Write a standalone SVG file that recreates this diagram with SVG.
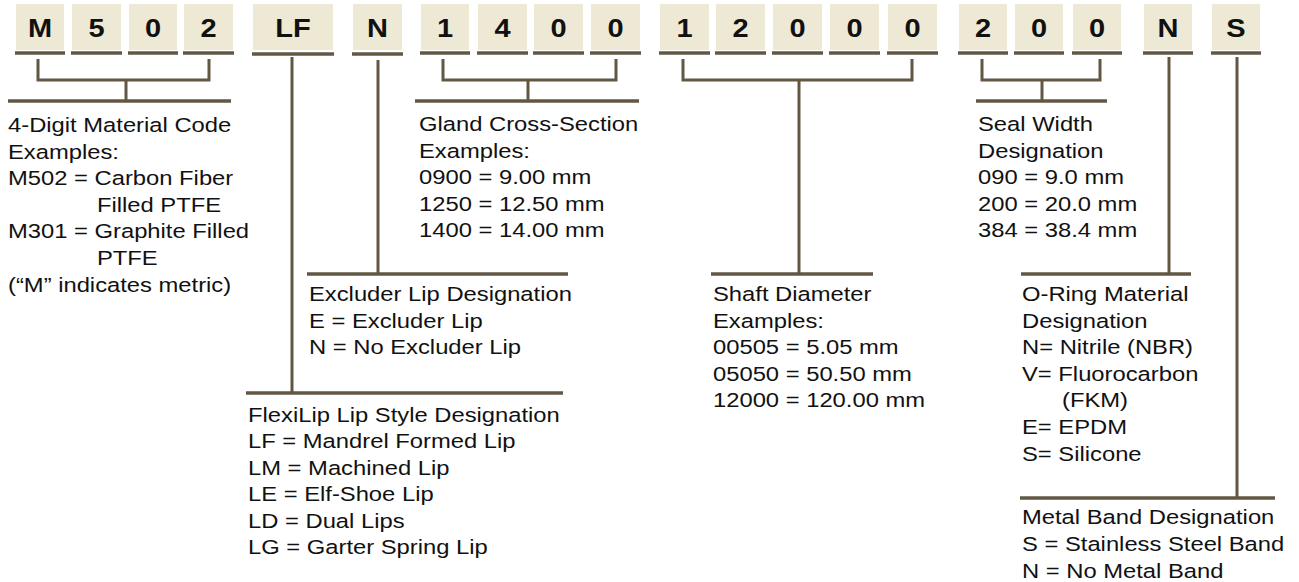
<svg xmlns="http://www.w3.org/2000/svg" width="1299" height="582" viewBox="0 0 1299 582">
<style>
.box{fill:#ede9d4;}
.ul{stroke:#625742;stroke-width:3.6;fill:none;}
.ln{stroke:#625742;stroke-width:3;fill:none;}
.hl{stroke:#625742;stroke-width:3.5;fill:none;}
.ch{font-family:"Liberation Sans",Arial,sans-serif;font-weight:bold;font-size:25px;fill:#111;text-anchor:middle;}
.tx{font-family:"Liberation Sans",Arial,sans-serif;font-size:20.5px;fill:#111;}
</style>
<rect width="1299" height="582" fill="#fff"/>
<g id="code-boxes">
<g id="box-M"><rect class="box" x="16" y="4" width="48" height="46"/><line class="ul" x1="15" y1="53" x2="65" y2="53"/><text class="ch" transform="translate(40,37) scale(1.16,1)">M</text></g>
<g id="box-5"><rect class="box" x="72" y="4" width="49" height="46"/><line class="ul" x1="71" y1="53" x2="122" y2="53"/><text class="ch" transform="translate(96.5,37) scale(1.16,1)">5</text></g>
<g id="box-0a"><rect class="box" x="129" y="4" width="48" height="46"/><line class="ul" x1="128" y1="53" x2="178" y2="53"/><text class="ch" transform="translate(153,37) scale(1.16,1)">0</text></g>
<g id="box-2a"><rect class="box" x="184" y="4" width="49" height="46"/><line class="ul" x1="183" y1="53" x2="234" y2="53"/><text class="ch" transform="translate(208.5,37) scale(1.16,1)">2</text></g>
<g id="box-LF"><rect class="box" x="253" y="4" width="80" height="46"/><line class="ul" x1="252" y1="54" x2="334" y2="54"/><text class="ch" transform="translate(293,37) scale(1.16,1)">LF</text></g>
<g id="box-N1"><rect class="box" x="353" y="4" width="49" height="46"/><line class="ul" x1="352" y1="54" x2="403" y2="54"/><text class="ch" transform="translate(377.5,37) scale(1.16,1)">N</text></g>
<g id="box-1a"><rect class="box" x="421" y="4" width="48" height="46"/><line class="ul" x1="420" y1="53" x2="470" y2="53"/><text class="ch" transform="translate(445,37) scale(1.16,1)">1</text></g>
<g id="box-4"><rect class="box" x="478" y="4" width="49" height="46"/><line class="ul" x1="477" y1="53" x2="528" y2="53"/><text class="ch" transform="translate(502.5,37) scale(1.16,1)">4</text></g>
<g id="box-0b"><rect class="box" x="534" y="4" width="49" height="46"/><line class="ul" x1="533" y1="53" x2="584" y2="53"/><text class="ch" transform="translate(558.5,37) scale(1.16,1)">0</text></g>
<g id="box-0c"><rect class="box" x="591" y="4" width="49" height="46"/><line class="ul" x1="590" y1="53" x2="641" y2="53"/><text class="ch" transform="translate(615.5,37) scale(1.16,1)">0</text></g>
<g id="box-1b"><rect class="box" x="660" y="4" width="49" height="46"/><line class="ul" x1="659" y1="53" x2="710" y2="53"/><text class="ch" transform="translate(684.5,37) scale(1.16,1)">1</text></g>
<g id="box-2b"><rect class="box" x="716" y="4" width="49" height="46"/><line class="ul" x1="715" y1="53" x2="766" y2="53"/><text class="ch" transform="translate(740.5,37) scale(1.16,1)">2</text></g>
<g id="box-0d"><rect class="box" x="773" y="4" width="49" height="46"/><line class="ul" x1="772" y1="53" x2="823" y2="53"/><text class="ch" transform="translate(797.5,37) scale(1.16,1)">0</text></g>
<g id="box-0e"><rect class="box" x="830" y="4" width="49" height="46"/><line class="ul" x1="829" y1="53" x2="880" y2="53"/><text class="ch" transform="translate(854.5,37) scale(1.16,1)">0</text></g>
<g id="box-0f"><rect class="box" x="888" y="4" width="49" height="46"/><line class="ul" x1="887" y1="53" x2="938" y2="53"/><text class="ch" transform="translate(912.5,37) scale(1.16,1)">0</text></g>
<g id="box-2c"><rect class="box" x="959" y="4" width="48" height="46"/><line class="ul" x1="958" y1="53" x2="1008" y2="53"/><text class="ch" transform="translate(983,37) scale(1.16,1)">2</text></g>
<g id="box-0g"><rect class="box" x="1015" y="4" width="48" height="46"/><line class="ul" x1="1014" y1="53" x2="1064" y2="53"/><text class="ch" transform="translate(1039,37) scale(1.16,1)">0</text></g>
<g id="box-0h"><rect class="box" x="1073" y="4" width="48" height="46"/><line class="ul" x1="1072" y1="53" x2="1122" y2="53"/><text class="ch" transform="translate(1097,37) scale(1.16,1)">0</text></g>
<g id="box-N2"><rect class="box" x="1144" y="4" width="48" height="46"/><line class="ul" x1="1143" y1="53" x2="1193" y2="53"/><text class="ch" transform="translate(1168,37) scale(1.16,1)">N</text></g>
<g id="box-S"><rect class="box" x="1212" y="4" width="48" height="46"/><line class="ul" x1="1211" y1="53" x2="1261" y2="53"/><text class="ch" transform="translate(1236,37) scale(1.16,1)">S</text></g>
</g>
<g id="connectors">
<polyline class="ln" points="38,59 38,80 209,80 209,59"/>
<line class="ln" x1="126" y1="80" x2="126" y2="101"/>
<line class="hl" x1="8" y1="101" x2="231" y2="101"/>
<line class="ln" x1="292" y1="57" x2="292" y2="393"/>
<line class="hl" x1="246" y1="393" x2="563" y2="393"/>
<line class="ln" x1="378" y1="60" x2="378" y2="274"/>
<line class="hl" x1="307" y1="274" x2="568" y2="274"/>
<polyline class="ln" points="443,59 443,80 616,80 616,59"/>
<line class="ln" x1="528" y1="80" x2="528" y2="101"/>
<line class="hl" x1="415" y1="101" x2="639" y2="101"/>
<polyline class="ln" points="683,59 683,80 912,80 912,59"/>
<line class="ln" x1="799" y1="80" x2="799" y2="274"/>
<line class="hl" x1="711" y1="274" x2="873" y2="274"/>
<polyline class="ln" points="982,59 982,80 1100,80 1100,59"/>
<line class="ln" x1="1042" y1="80" x2="1042" y2="101"/>
<line class="hl" x1="976" y1="101" x2="1107" y2="101"/>
<line class="ln" x1="1169" y1="57" x2="1169" y2="274"/>
<line class="hl" x1="1021" y1="274" x2="1191" y2="274"/>
<line class="ln" x1="1237" y1="57" x2="1237" y2="498"/>
<line class="hl" x1="1020" y1="498" x2="1275" y2="498"/>
</g>
<g id="label-material">
<text class="tx" transform="translate(8,132) scale(1.16,1)"><tspan x="0" y="0">4-Digit Material Code</tspan><tspan x="0" dy="26.6">Examples:</tspan><tspan x="0" dy="26.6">M502 = Carbon Fiber</tspan><tspan x="76.7" dy="26.6">Filled PTFE</tspan><tspan x="0" dy="26.6">M301 = Graphite Filled</tspan><tspan x="76.7" dy="26.6">PTFE</tspan><tspan x="0" dy="26.6">(“M” indicates metric)</tspan></text>
</g>
<g id="label-gland">
<text class="tx" transform="translate(419,131) scale(1.16,1)"><tspan x="0" y="0">Gland Cross-Section</tspan><tspan x="0" dy="26.6">Examples:</tspan><tspan x="0" dy="26.6">0900 = 9.00 mm</tspan><tspan x="0" dy="26.6">1250 = 12.50 mm</tspan><tspan x="0" dy="26.6">1400 = 14.00 mm</tspan></text>
</g>
<g id="label-seal">
<text class="tx" transform="translate(978,131) scale(1.16,1)"><tspan x="0" y="0">Seal Width</tspan><tspan x="0" dy="26.6">Designation</tspan><tspan x="0" dy="26.6">090 = 9.0 mm</tspan><tspan x="0" dy="26.6">200 = 20.0 mm</tspan><tspan x="0" dy="26.6">384 = 38.4 mm</tspan></text>
</g>
<g id="label-excluder">
<text class="tx" transform="translate(309,301) scale(1.16,1)"><tspan x="0" y="0">Excluder Lip Designation</tspan><tspan x="0" dy="26.6">E = Excluder Lip</tspan><tspan x="0" dy="26.6">N = No Excluder Lip</tspan></text>
</g>
<g id="label-shaft">
<text class="tx" transform="translate(713,301) scale(1.16,1)"><tspan x="0" y="0">Shaft Diameter</tspan><tspan x="0" dy="26.6">Examples:</tspan><tspan x="0" dy="26.6">00505 = 5.05 mm</tspan><tspan x="0" dy="26.6">05050 = 50.50 mm</tspan><tspan x="0" dy="26.6">12000 = 120.00 mm</tspan></text>
</g>
<g id="label-oring">
<text class="tx" transform="translate(1022,301) scale(1.16,1)"><tspan x="0" y="0">O-Ring Material</tspan><tspan x="0" dy="26.6">Designation</tspan><tspan x="0" dy="26.6">N= Nitrile (NBR)</tspan><tspan x="0" dy="26.6">V= Fluorocarbon</tspan><tspan x="34.5" dy="26.6">(FKM)</tspan><tspan x="0" dy="26.6">E= EPDM</tspan><tspan x="0" dy="26.6">S= Silicone</tspan></text>
</g>
<g id="label-flexilip">
<text class="tx" transform="translate(248,422) scale(1.16,1)"><tspan x="0" y="0">FlexiLip Lip Style Designation</tspan><tspan x="0" dy="26.4">LF = Mandrel Formed Lip</tspan><tspan x="0" dy="26.4">LM = Machined Lip</tspan><tspan x="0" dy="26.4">LE = Elf-Shoe Lip</tspan><tspan x="0" dy="26.4">LD = Dual Lips</tspan><tspan x="0" dy="26.4">LG = Garter Spring Lip</tspan></text>
</g>
<g id="label-metal">
<text class="tx" transform="translate(1022,524) scale(1.16,1)"><tspan x="0" y="0">Metal Band Designation</tspan><tspan x="0" dy="27">S = Stainless Steel Band</tspan><tspan x="0" dy="27">N = No Metal Band</tspan></text>
</g>
</svg>
